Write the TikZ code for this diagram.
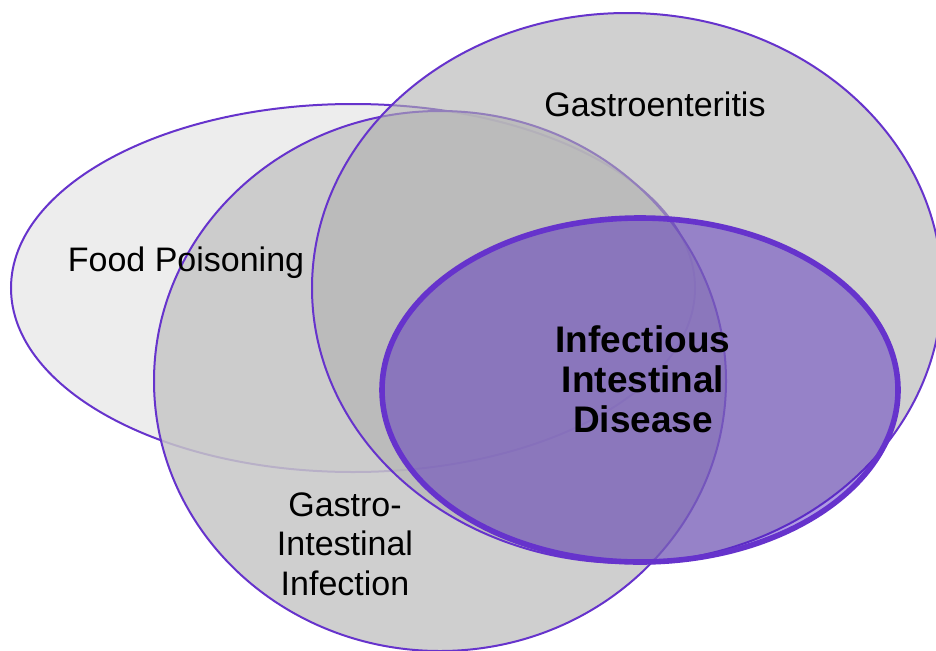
\documentclass[tikz,border=0pt]{standalone}
\usepackage{fontspec}
\setmainfont{Liberation Sans}
\usepackage{xcolor}
\usepackage{tikz}
\definecolor{setpurple}{RGB}{102,51,204}
\definecolor{iidfill}{RGB}{80,36,190}

\begin{document}
\begin{tikzpicture}[x=0.5pt, y=0.5pt,
  set/.style={draw=setpurple, line width=1pt},
  lbl/.style={font=\fontsize{17}{19.75}\selectfont, align=center, text=black}]
  \useasboundingbox (0,0) rectangle (936,650);
  \clip (0,0) rectangle (936,650);
  % the four sets, back to front
  \filldraw[set, fill=black!7] (353,362) ellipse [x radius=342, y radius=184];
  \filldraw[set, fill=black!22, fill opacity=0.85] (440,269) ellipse [x radius=286, y radius=270];
  \filldraw[set, fill=black!31, fill opacity=0.6] (627,362) ellipse [x radius=315, y radius=275];
  \filldraw[set, line width=2.8pt, fill=iidfill, fill opacity=0.45] (640,260) ellipse [x radius=258, y radius=172];
  % labels
  \node[lbl] (ge) at (655,546) {Gastroenteritis};
  \node[lbl] (fp) at (186,387) {Food Poisoning};
  \node[lbl] (gii) at (345,106) {Gastro-\\Intestinal\\Infection};
  \node[lbl, font=\fontsize{18.5}{20}\selectfont\bfseries] (iid) at (643,271)
    {Infectious\\Intestinal\\Disease};
\end{tikzpicture}
\end{document}
